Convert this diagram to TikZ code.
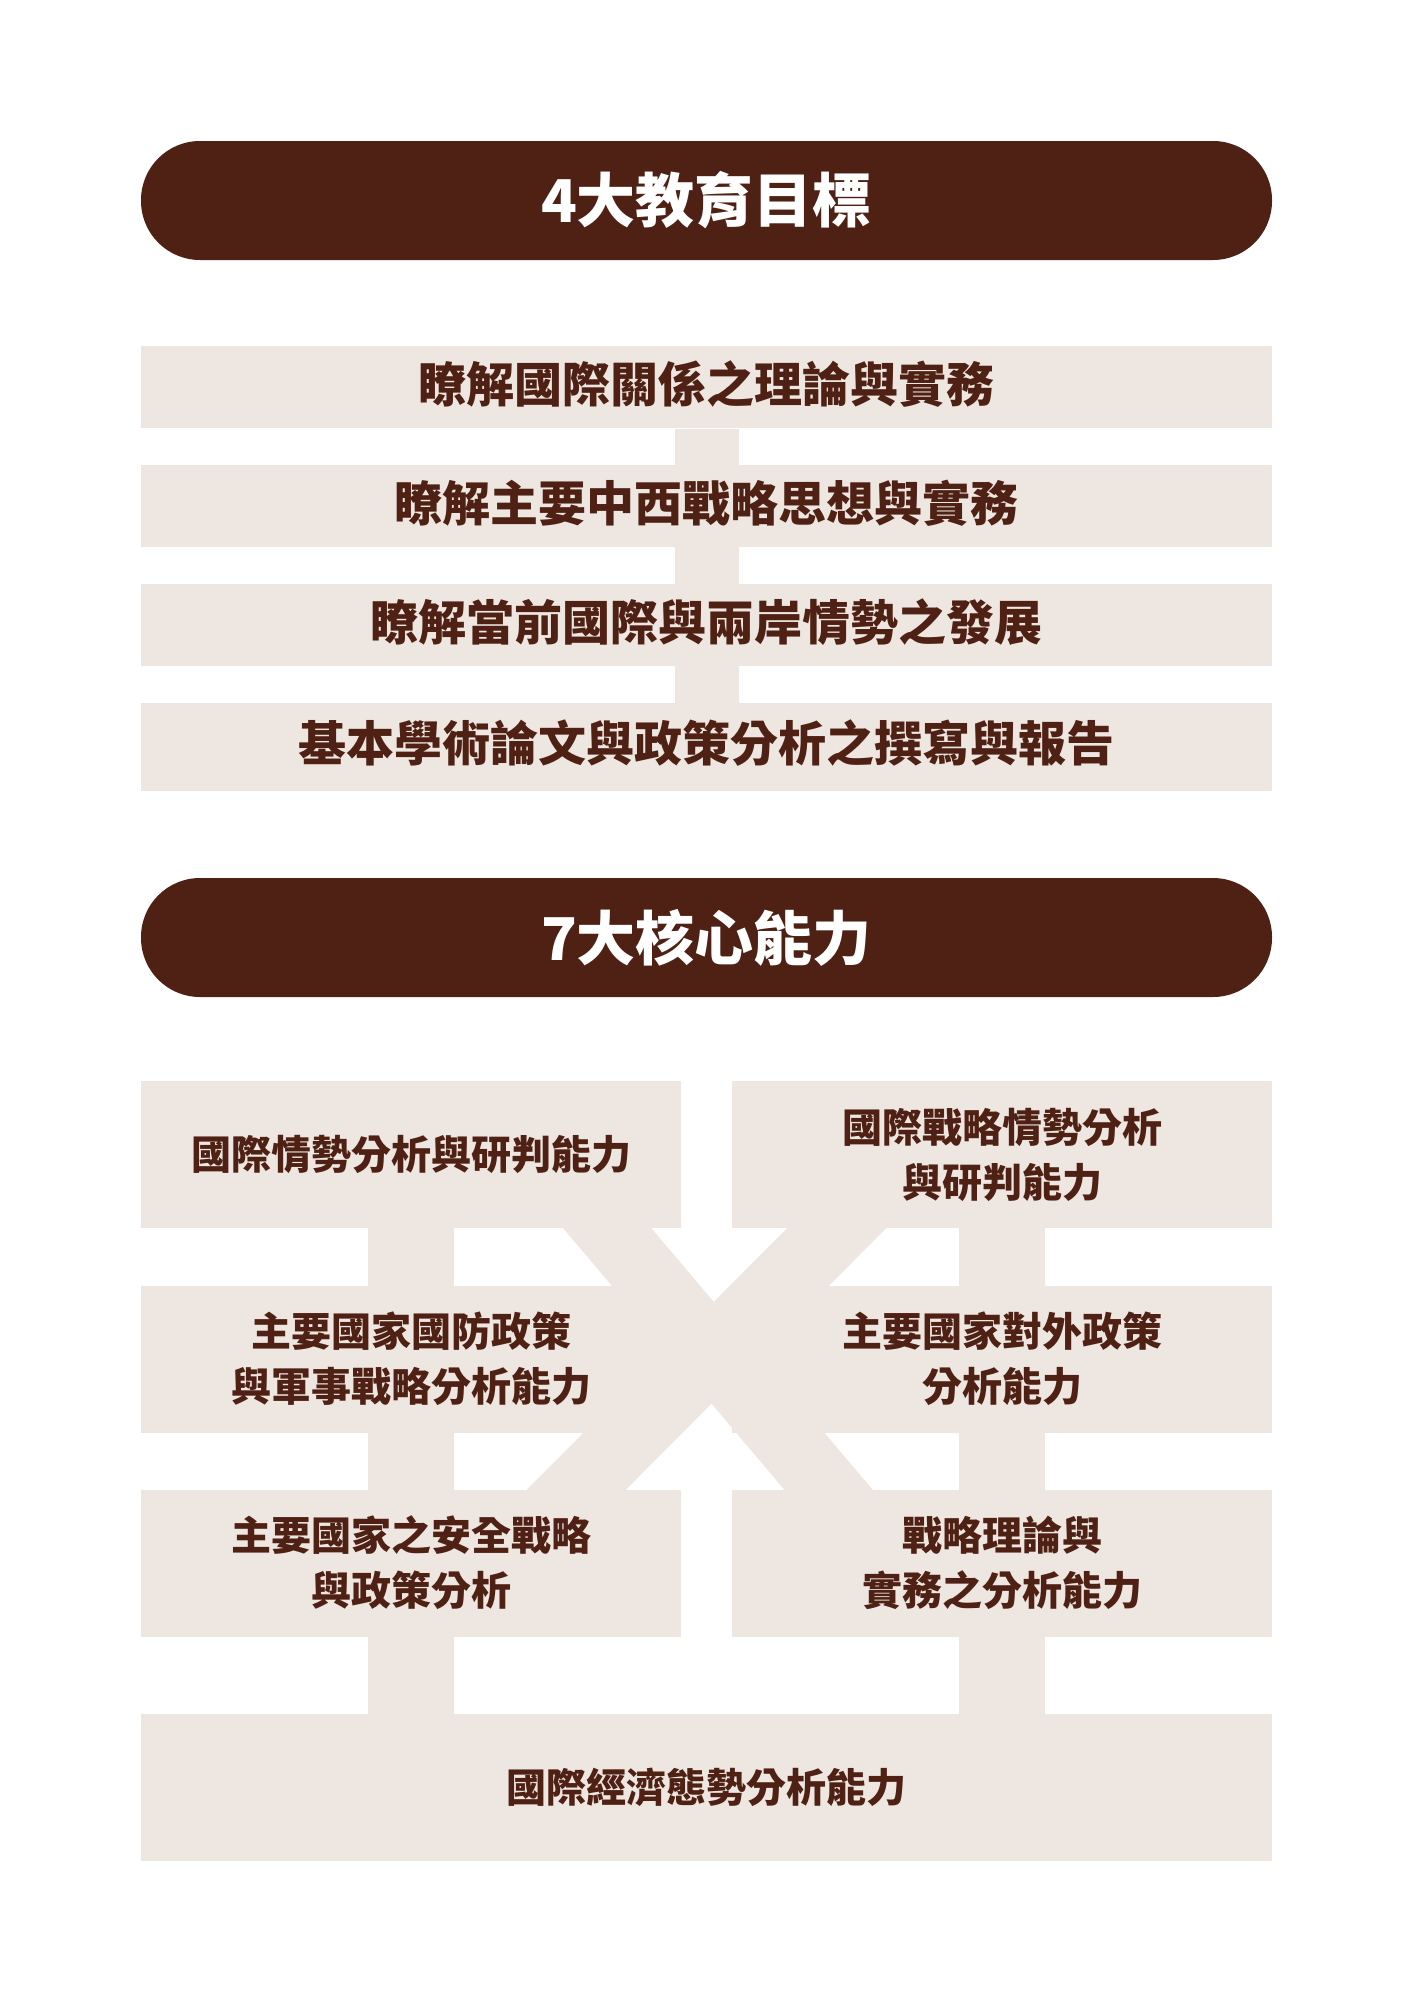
\documentclass[tikz,border=0pt]{standalone}
\usepackage{fontspec}
\setmainfont{Noto Sans CJK TC}
\usetikzlibrary{positioning,backgrounds}

\definecolor{darkbrown}{HTML}{4F2114}
\definecolor{paper}{HTML}{EDE6E1}

\begin{document}
\begin{tikzpicture}[
    x=1pt, y=1pt,
    node distance=36.5pt, % 目標之間的間距
    banner/.style={fill=darkbrown,text=white,rounded corners=59pt,minimum width=1131pt,minimum height=119pt,inner sep=0pt,font=\bfseries\fontsize{59}{59}\selectfont},
    goal/.style={fill=paper,text=darkbrown,minimum width=1131pt,minimum height=82pt,inner sep=0pt,text height=35.5pt,text depth=5.8pt,font=\bfseries\fontsize{48}{48}\selectfont},
    skill/.style={fill=paper,text=darkbrown,minimum width=540pt,minimum height=147pt,inner sep=0pt,align=center,font=\bfseries\fontsize{40}{55}\selectfont},
    spine/.style={draw=paper,line width=64pt},
    link/.style={draw=paper,line width=86pt},
    cross/.style={draw=paper,shorten <=-40pt,shorten >=-40pt}
]
\useasboundingbox (0,0) rectangle (1414,-2000);

% 4大教育目標
\node[banner] (goals) at (706.5,-200.5) {4大教育目標};
\node[goal] (g1) [below=86pt of goals] {瞭解國際關係之理論與實務};
\node[goal] (g2) [below=of g1] {瞭解主要中西戰略思想與實務};
\node[goal] (g3) [below=of g2] {瞭解當前國際與兩岸情勢之發展};
\node[goal,minimum height=88pt] (g4) [below=of g3] {基本學術論文與政策分析之撰寫與報告};

% 7大核心能力
\node[banner] (skills) [below=86.5pt of g4] {7大核心能力};
\node[skill] (c1) [below=84pt of skills.south west,anchor=north west] {國際情勢分析與研判能力};
\node[skill] (c2) [below=84pt of skills.south east,anchor=north east] {國際戰略情勢分析\\與研判能力};
\node[skill] (c3) [below=56.7pt of c1] {主要國家國防政策\\與軍事戰略分析能力};
\node[skill] (c4) [below=56.7pt of c2] {主要國家對外政策\\分析能力};
\node[skill] (c5) [below=56.7pt of c3] {主要國家之安全戰略\\與政策分析};
\node[skill] (c6) [below=56.7pt of c4] {戰略理論與\\實務之分析能力};
\node[skill,minimum width=1131pt] (c7) [below=77.3pt of c5.south west,anchor=north west] {國際經濟態勢分析能力};

% Connectors
\begin{scope}[on background layer]
\draw[spine] (g1) -- (g4);
\draw[link] (c1.center) -- (c1 |- c7.center);
\draw[link] (c2.center) -- (c2 |- c7.center);
\draw[cross,line width=67.4pt] ([xshift=-73.6pt]c1.south east) -- ([xshift=96.4pt]c6.north west);
\draw[cross,line width=70.2pt] ([xshift=104.4pt]c2.south west) -- ([xshift=-104.6pt]c5.north east);
\end{scope}

\end{tikzpicture}
\end{document}
